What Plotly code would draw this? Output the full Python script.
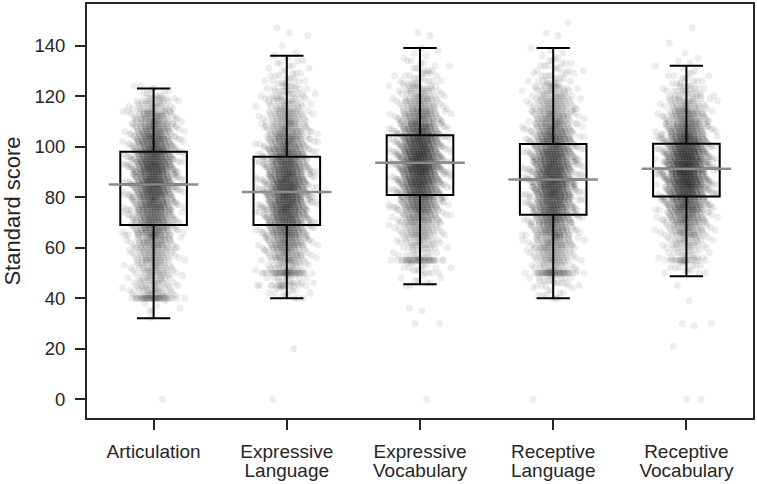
import numpy as np
import plotly.graph_objects as go
from statistics import NormalDist

# ---------------- data ----------------
label_line1 = ["Articulation", "Expressive", "Expressive", "Receptive", "Receptive"]
label_line2 = ["", "Language", "Vocabulary", "Language", "Vocabulary"]

# box statistics
q1 = [69, 69, 80.8, 73, 80.2]
median = [85, 82, 93.6, 87, 91.2]
q3 = [98, 96, 104.5, 101, 101.1]
lower_whisker = [32, 40, 45.5, 40, 48.7]
upper_whisker = [123, 136, 139, 139, 132]

# approximate score distribution of the individual points (5-point bins)
bin_lows = [30, 35, 40, 45, 50, 55, 60, 65, 70, 75, 80, 85, 90, 95, 100,
            105, 110, 115, 120, 125, 130, 135]
counts_articulation = [0, 6, 45, 40, 48, 56, 72, 96, 112, 128, 144, 152, 160, 144,
                       120, 96, 72, 40, 12, 0, 0, 0]
counts_expr_language = [0, 0, 15, 24, 40, 64, 88, 112, 136, 152, 160, 152, 136, 120,
                        96, 72, 56, 40, 28, 18, 10, 3]
counts_expr_vocabulary = [0, 0, 0, 9, 18, 24, 40, 56, 80, 112, 144, 168, 184, 184,
                          160, 128, 88, 60, 40, 22, 12, 5]
counts_rec_language = [0, 0, 12, 24, 40, 56, 72, 88, 112, 136, 152, 160, 152, 144,
                       120, 96, 72, 56, 40, 22, 14, 6]
counts_rec_vocabulary = [0, 0, 0, 0, 15, 24, 40, 64, 96, 128, 160, 192, 200, 184,
                         152, 112, 80, 48, 28, 14, 5, 0]

# floor / repeated scores that appear as dense horizontal bands
spikes_articulation = {40: 32}
spikes_expr_language = {45: 10, 50: 30}
spikes_expr_vocabulary = {55: 30}
spikes_rec_language = {50: 32}
spikes_rec_vocabulary = {55: 13}

# isolated scores
extra_articulation = [0, 32]
extra_expr_language = [0, 20, 140, 144, 145, 147]
extra_expr_vocabulary = [0, 30, 30, 35, 36, 144, 145]
extra_rec_language = [0, 144, 145, 149]
extra_rec_vocabulary = [0, 0, 21, 29, 30, 30, 39, 45, 135, 137, 141, 147]

y_ticks = [0, 20, 40, 60, 80, 100, 120, 140]

# ---------------- build point clouds ----------------
all_counts = [counts_articulation, counts_expr_language, counts_expr_vocabulary,
              counts_rec_language, counts_rec_vocabulary]
all_spikes = [spikes_articulation, spikes_expr_language, spikes_expr_vocabulary,
              spikes_rec_language, spikes_rec_vocabulary]
all_extra = [extra_articulation, extra_expr_language, extra_expr_vocabulary,
             extra_rec_language, extra_rec_vocabulary]

nd = NormalDist(0, 1)
golden = 0.6180339887498949

xs, ys = [], []
for ci, (cnts, spk, ext) in enumerate(zip(all_counts, all_spikes, all_extra)):
    vals = []
    for lo, c in zip(bin_lows, cnts):
        vals.extend(list(lo + (np.arange(c) % 5)))
    for v, c in spk.items():
        vals.extend([v] * c)
    vals.extend(ext)
    vals = np.array(vals, dtype=float)
    n = len(vals)
    # deterministic horizontal jitter (layout only)
    u = (np.arange(n) * golden + 0.37 * (ci + 1)) % 1.0
    u = np.clip(u, 0.004, 0.996)
    off = np.array([nd.inv_cdf(float(t)) for t in u]) * 0.088
    off = np.clip(off, -0.3, 0.3)
    xs.extend(list(ci + off))
    ys.extend(list(vals))

idx = list(range(len(label_line1)))

FONT = "Liberation Sans, Arial, sans-serif"
INK = "#262626"

fig = go.Figure()
fig.add_trace(go.Scatter(
    x=xs, y=ys, mode="markers",
    marker=dict(size=7, color="rgba(20,20,20,0.08)", line=dict(width=0)),
    hoverinfo="skip", showlegend=False))

fig.add_trace(go.Box(
    x=idx, q1=q1, median=median, q3=q3,
    lowerfence=lower_whisker, upperfence=upper_whisker,
    width=0.5, whiskerwidth=0.5, boxpoints=False,
    line=dict(color="black", width=2), fillcolor="rgba(0,0,0,0)",
    hoverinfo="skip", showlegend=False))

fig.add_trace(go.Scatter(
    x=idx, y=median, mode="markers",
    marker=dict(symbol="line-ew", size=64, color="#8c8c8c",
                line=dict(color="#8c8c8c", width=2.6)),
    hoverinfo="skip", showlegend=False))

# invisible trace so that the second-line label axis is drawn
fig.add_trace(go.Scatter(x=idx, y=median, xaxis="x2", mode="markers",
                         marker=dict(opacity=0), hoverinfo="skip", showlegend=False))

fig.update_layout(
    width=757, height=484,
    margin=dict(l=87, r=4, t=2, b=66),
    plot_bgcolor="white", paper_bgcolor="white",
    xaxis=dict(range=[-0.5, 4.5], tickvals=idx, ticktext=label_line1,
               showline=True, mirror=True, linecolor=INK, linewidth=2,
               ticks="outside", ticklen=10, tickwidth=2, tickcolor=INK,
               ticklabelstandoff=5,
               showgrid=False, zeroline=False,
               tickfont=dict(family=FONT, size=19, color=INK)),
    xaxis2=dict(range=[-0.5, 4.5], tickvals=idx, ticktext=label_line2,
                overlaying="x", side="bottom", anchor="y",
                showline=False, ticks="outside", ticklen=10, tickwidth=0,
                tickcolor="rgba(0,0,0,0)", ticklabelstandoff=25,
                showgrid=False, zeroline=False,
                tickfont=dict(family=FONT, size=19, color=INK)),
    yaxis=dict(range=[-7.45, 156.45], tickvals=y_ticks,
               showline=True, mirror=True, linecolor=INK, linewidth=2,
               ticks="outside", ticklen=10, tickwidth=2, tickcolor=INK,
               ticklabelstandoff=6,
               showgrid=False, zeroline=False,
               tickfont=dict(family=FONT, size=18.5, color=INK),
               title=dict(text="Standard score", standoff=13,
                          font=dict(family=FONT, size=22, color=INK))),
)

fig.write_html("out.html", config={"displayModeBar": False},
               post_script="document.body.style.margin='0';document.body.style.overflow='hidden';")
